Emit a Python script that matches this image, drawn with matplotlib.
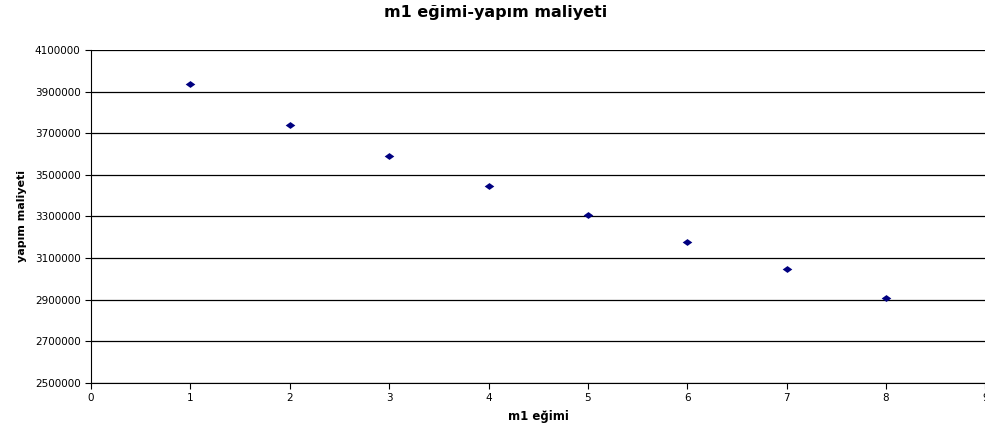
import matplotlib.pyplot as plt
import numpy as np

plt.rcParams['font.family'] = ['DejaVu Sans']

egim = [1, 2, 3, 4, 5, 6, 7, 8]
maliyet = [3935000, 3740000, 3590000, 3446000, 3307000, 3177000, 3047000, 2908000]

fig = plt.figure(figsize=(9.85, 4.23), dpi=100)
ax = fig.add_axes([0.0924, 0.0946, 0.908, 0.7872])

# Excel-like diamond, a bit wider than tall
diamond = [(-1.4, 0), (0, 1), (1.4, 0), (0, -1), (-1.4, 0)]
ax.scatter(egim, maliyet, marker=diamond, s=48, color='#000080', linewidths=0, zorder=3)

ax.set_xlim(0, 9)
ax.set_ylim(2500000, 4100000)
ax.set_xticks(np.arange(0, 10, 1))
ax.set_yticks(np.arange(2500000, 4100001, 200000))
ax.yaxis.set_major_formatter(plt.FuncFormatter(lambda v, p: f"{int(v)}"))
ax.grid(axis='y', color='black', linewidth=0.9)
ax.set_axisbelow(True)
for s in ['top', 'right']:
    ax.spines[s].set_visible(False)
ax.tick_params(axis='both', direction='out', length=4, labelsize=7.5, width=0.8)

fig.text(0.503, 1 - 13 / 423, "m1 eğimi-yapım maliyeti", fontsize=11.5, fontweight='bold',
         ha='center', va='center')
ax.set_xlabel("m1 eğimi", fontsize=8.5, fontweight='bold', labelpad=5)
ax.set_ylabel("yapım maliyeti", fontsize=8, fontweight='bold', labelpad=6)

fig.savefig("out.png", dpi=100)
